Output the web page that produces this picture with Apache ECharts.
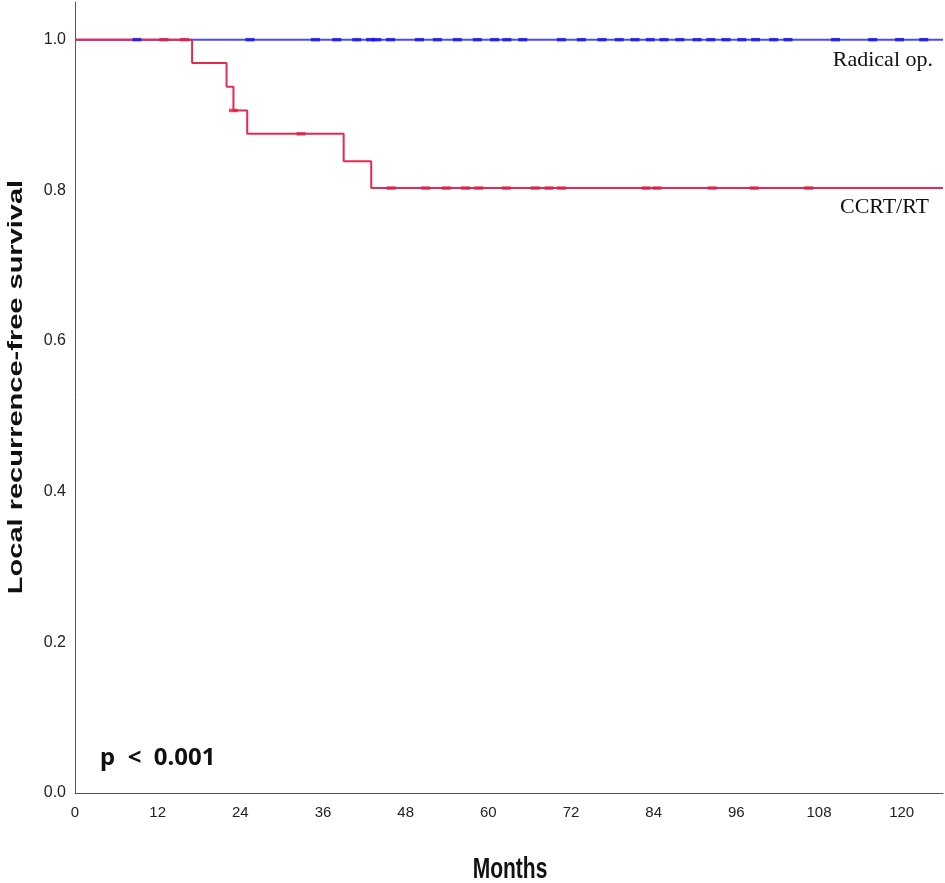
<!DOCTYPE html>
<html>
<head>
<meta charset="utf-8">
<script src="https://cdn.jsdelivr.net/npm/echarts@6/dist/echarts.min.js"></script>
<style>
  html, body { margin: 0; padding: 0; background: #fff; }
  #chart { width: 945px; height: 883px; }
</style>
</head>
<body>
<div id="chart"></div>
<script>
// Kaplan-Meier steps (months, survival)
var radicalTimes = [0, 126];
var radicalSurv  = [1.0, 1.0];
var ccrtTimes = [0, 17, 22, 23, 25, 39, 43, 126];
var ccrtSurv  = [1.0, 0.969, 0.9375, 0.906, 0.875, 0.8385, 0.803, 0.803];

// censored observations (months)
var radicalCensor = [9, 25.4, 34.9, 38, 40.9, 42.9, 43.8, 45.8, 50, 52.6, 55.5, 58.4, 60.9, 62.7, 65, 70.6,
                     73.5, 76.5, 79, 81.3, 83.5, 85.5, 87.8, 90.3, 92.3, 94.5, 96.8, 98.8, 101.4, 103.5,
                     110.4, 115.8, 119.7, 123.2];
var ccrtCensor = [12.9, 15.9, 23, 32.8, 45.9, 50.9, 53.9, 56.7, 58.6, 62.6, 66.8, 68.8, 70.6, 82.9, 84.5,
                  92.5, 98.6, 106.5];

var xTicks = [0, 12, 24, 36, 48, 60, 72, 84, 96, 108, 120];
var yTicks = [0.0, 0.2, 0.4, 0.6, 0.8, 1.0];

function survAt(times, surv, t) {
  var s = surv[0];
  for (var i = 0; i < times.length; i++) { if (times[i] <= t) s = surv[i]; }
  return s;
}

function pairs(xs, ys) {
  var out = [];
  for (var i = 0; i < xs.length; i++) out.push([xs[i], ys[i]]);
  return out;
}

var blue = '#4848ff';
var red = '#e52a52';
var sansFont = '"Liberation Sans", Arial, sans-serif';

var chart = echarts.init(document.getElementById('chart'));
chart.setOption({
  animation: false,
  backgroundColor: '#fff',
  grid: { left: 75, right: 2, top: 2, bottom: 90, outerBoundsMode: 'none', containLabel: false },
  xAxis: {
    type: 'value', min: 0, max: 126, interval: 12,
    axisLine: { lineStyle: { color: '#555', width: 1 } },
    axisTick: { show: false },
    splitLine: { show: false },
    axisLabel: {
      margin: 12, fontFamily: sansFont, fontSize: 15, color: '#222',
      formatter: function (v) { return xTicks.indexOf(v) >= 0 ? String(v) : ''; }
    }
  },
  yAxis: {
    type: 'value', min: 0, max: 1.05, interval: 0.2,
    axisLine: { show: true, lineStyle: { color: '#555', width: 1 } },
    axisTick: { show: false },
    splitLine: { show: false },
    axisLabel: {
      margin: 9, fontFamily: sansFont, fontSize: 16, color: '#222',
      formatter: function (v) {
        var r = Math.round(v * 10) / 10;
        return yTicks.indexOf(r) >= 0 && Math.abs(v - r) < 1e-6 ? r.toFixed(1) : '';
      }
    }
  },
  series: [
    {
      name: 'Radical op.', type: 'line', step: 'end', showSymbol: false,
      data: pairs(radicalTimes, radicalSurv),
      lineStyle: { color: blue, width: 2 }, z: 2
    },
    {
      name: 'CCRT/RT', type: 'line', step: 'end', showSymbol: false,
      data: pairs(ccrtTimes, ccrtSurv),
      lineStyle: { color: red, width: 2 }, z: 3
    },
    {
      type: 'scatter', symbol: 'rect', symbolSize: [9, 3.5],
      data: radicalCensor.map(function (t) { return [t, survAt(radicalTimes, radicalSurv, t)]; }),
      itemStyle: { color: '#1414f0' }, z: 4
    },
    {
      type: 'scatter', symbol: 'rect', symbolSize: [9, 3.5],
      data: ccrtCensor.map(function (t) { return [t, survAt(ccrtTimes, ccrtSurv, t)]; }),
      itemStyle: { color: '#dc1f48' }, z: 5
    }
  ],
  graphic: [
    { type: 'text', x: 16, y: 387, rotation: Math.PI / 2, scaleX: 1.45,
      style: { text: 'Local recurrence-free survival', font: 'bold 20px ' + sansFont, fill: '#111',
               align: 'center', verticalAlign: 'middle' } },
    { type: 'text', x: 510, y: 870, scaleY: 1.4,
      style: { text: 'Months', font: 'bold 21px ' + sansFont, fill: '#111',
               align: 'center', verticalAlign: 'middle' } },
    { type: 'text', right: 12, top: 49,
      style: { text: 'Radical op.', font: '22px "Liberation Serif", "Times New Roman", serif', fill: '#111' } },
    { type: 'text', right: 16, top: 196,
      style: { text: 'CCRT/RT', font: '22px "Liberation Serif", "Times New Roman", serif', fill: '#111' } },
    { type: 'text', left: 100, top: 746,
      style: { text: 'p  <  0.001', font: 'bold 24px "Noto Sans", "DejaVu Sans", sans-serif', fill: '#111' } }
  ]
});
</script>
</body>
</html>
